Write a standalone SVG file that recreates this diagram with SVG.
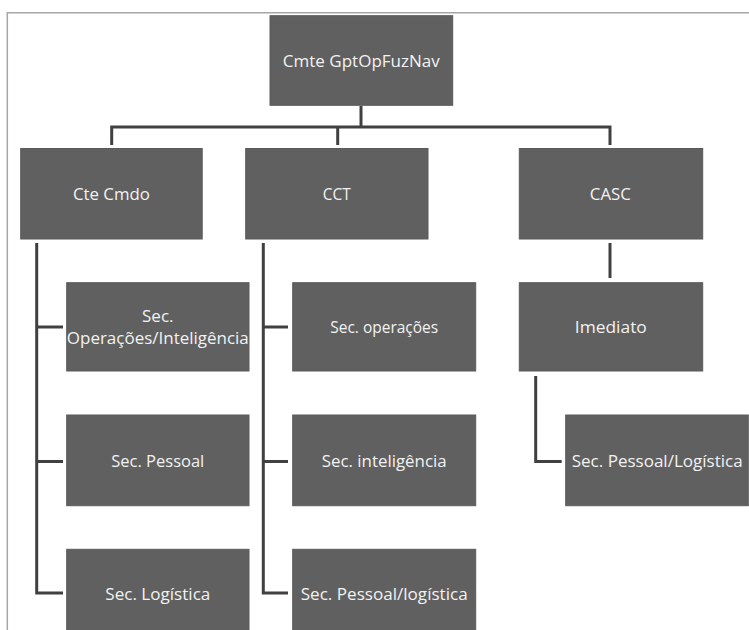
<svg xmlns="http://www.w3.org/2000/svg" width="749" height="630" viewBox="0 0 749 630">
  <style>
    .box { fill: #606060; stroke: #5a5a5a; stroke-width: 1; }
    .lbl { font-family: "Open Sans", "Liberation Sans", sans-serif; font-size: 17px; fill: #f2f2f2; text-anchor: middle; }
    .con { fill: none; stroke: #404040; stroke-width: 3; stroke-linejoin: miter; }
    .frame { fill: none; stroke: #a6a6a6; stroke-width: 1.5; }
  </style>
  <rect x="0" y="0" width="749" height="630" fill="#ffffff"/>
  <path class="frame" d="M7.3,630 V12.7 H749"/>

  <g id="connectors">
    <path class="con" d="M361,106 V127"/>
    <path class="con" d="M111.7,145 V127 H610 V145"/>
    <path class="con" d="M337.7,127 V145"/>
    <path class="con" d="M36.7,243 V593 H63"/>
    <path class="con" d="M36.7,327 H63"/>
    <path class="con" d="M36.7,461.5 H63"/>
    <path class="con" d="M263.3,243 V593 H288"/>
    <path class="con" d="M263.3,327 H288"/>
    <path class="con" d="M263.3,461.5 H288"/>
    <path class="con" d="M610,243 V278"/>
    <path class="con" d="M535.7,376 V461.5 H561.7"/>
  </g>

  <g id="cmte">
    <rect class="box" x="270" y="15.7" width="182.7" height="89.6"/>
    <text class="lbl" x="361.3" y="67" textLength="157" lengthAdjust="spacingAndGlyphs">Cmte GptOpFuzNav</text>
  </g>
  <g id="ctecmdo">
    <rect class="box" x="20.7" y="148.5" width="181.5" height="90.5"/>
    <text class="lbl" x="111.4" y="200" textLength="77" lengthAdjust="spacingAndGlyphs">Cte Cmdo</text>
  </g>
  <g id="cct">
    <rect class="box" x="245.7" y="148.5" width="182.3" height="90.5"/>
    <text class="lbl" x="336.8" y="200" textLength="28" lengthAdjust="spacingAndGlyphs">CCT</text>
  </g>
  <g id="casc">
    <rect class="box" x="519.3" y="148.5" width="183.4" height="90.5"/>
    <text class="lbl" x="610.3" y="200" textLength="41" lengthAdjust="spacingAndGlyphs">CASC</text>
  </g>

  <g id="secopint">
    <rect class="box" x="66.7" y="282.7" width="182.3" height="88.3"/>
    <text class="lbl" x="157.8" y="321.7">Sec.</text>
    <text class="lbl" x="157.8" y="344" textLength="182" lengthAdjust="spacingAndGlyphs">Operações/Inteligência</text>
  </g>
  <g id="secpessoal">
    <rect class="box" x="66.7" y="415" width="182.3" height="90.7"/>
    <text class="lbl" x="157.8" y="467" textLength="93" lengthAdjust="spacingAndGlyphs">Sec. Pessoal</text>
  </g>
  <g id="seclogistica">
    <rect class="box" x="66.7" y="549.3" width="182.3" height="90.7"/>
    <text class="lbl" x="157.8" y="599.5" textLength="105" lengthAdjust="spacingAndGlyphs">Sec. Logística</text>
  </g>

  <g id="secoperacoes">
    <rect class="box" x="292.7" y="282.7" width="183" height="88.3"/>
    <text class="lbl" x="384.2" y="333" textLength="108" lengthAdjust="spacingAndGlyphs">Sec. operações</text>
  </g>
  <g id="secinteligencia">
    <rect class="box" x="292.7" y="415" width="183" height="90.7"/>
    <text class="lbl" x="384.2" y="467" textLength="125" lengthAdjust="spacingAndGlyphs">Sec. inteligência</text>
  </g>
  <g id="secpessoallog">
    <rect class="box" x="292.7" y="549.3" width="183" height="90.7"/>
    <text class="lbl" x="384.2" y="599.5" textLength="167" lengthAdjust="spacingAndGlyphs">Sec. Pessoal/logística</text>
  </g>

  <g id="imediato">
    <rect class="box" x="519.3" y="282.7" width="183.4" height="88.3"/>
    <text class="lbl" x="610.8" y="333" textLength="72" lengthAdjust="spacingAndGlyphs">Imediato</text>
  </g>
  <g id="secpessoallogistica">
    <rect class="box" x="565.7" y="415" width="182.6" height="90.7"/>
    <text class="lbl" x="657.2" y="467" textLength="171" lengthAdjust="spacingAndGlyphs">Sec. Pessoal/Logística</text>
  </g>
</svg>
